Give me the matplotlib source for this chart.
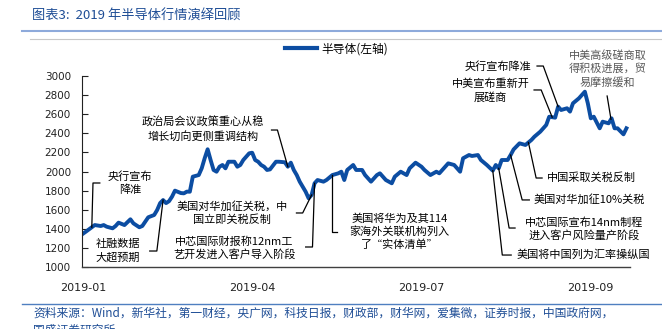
import numpy as np
import matplotlib
matplotlib.use("Agg")
import matplotlib.pyplot as plt
from matplotlib.lines import Line2D

plt.rcParams['font.family'] = ['Noto Sans CJK SC', 'DejaVu Sans']

# trading-day index and index level
days = [0, 1, 3, 4, 6, 7, 8, 10, 11, 12, 14, 16, 17, 19, 20, 22, 24, 25, 26, 27,
        28, 29, 30, 31, 33, 34, 35, 36, 37, 39, 40, 41, 42, 43, 44, 45, 46, 47, 48, 49,
        51, 52, 53, 54, 56, 57, 58, 59, 60, 61, 62, 63, 65, 66, 68, 69, 70, 71, 72, 73,
        75, 76, 77, 78, 79, 81, 82, 84, 86, 87, 88, 89, 91, 92, 94, 95, 97, 99, 100, 102,
        104, 105, 107, 109, 110, 112, 114, 115, 117, 119, 120, 122, 123, 125, 127, 128, 130, 131, 133, 134,
        136, 138, 139, 140, 141, 143, 144, 145, 147, 149, 151, 152, 154, 156, 157, 159, 160, 161, 163, 164,
        165, 167, 169, 170, 171, 172, 174, 175, 177, 178, 179, 180, 182, 183]
semi = [1350, 1372, 1418, 1441, 1431, 1441, 1424, 1407, 1431, 1466, 1441, 1501, 1459, 1418, 1431, 1522, 1546, 1598, 1670, 1702,
        1670, 1690, 1737, 1800, 1775, 1772, 1790, 1789, 1946, 1963, 2033, 2138, 2232, 2120, 2016, 1998, 2050, 2068, 2033, 2102,
        2102, 2050, 2068, 2120, 2190, 2196, 2120, 2102, 2068, 2050, 2016, 2022, 2102, 2102, 2096, 2050, 2092, 2016, 1963, 1894,
        1789, 1720, 1755, 1877, 1911, 1894, 1911, 1963, 1981, 1998, 1911, 2016, 2068, 2016, 2016, 1963, 1894, 1963, 1981, 1911,
        1877, 1946, 1998, 1963, 2033, 2092, 2050, 2016, 1963, 1998, 1981, 2050, 2085, 2068, 1998, 2138, 2172, 2162, 2172, 2120,
        2068, 2009, 2068, 2033, 2120, 2120, 2172, 2230, 2294, 2277, 2329, 2363, 2416, 2486, 2572, 2562, 2677, 2642, 2660, 2625,
        2712, 2764, 2833, 2712, 2555, 2572, 2451, 2520, 2503, 2555, 2451, 2451, 2388, 2451]

tick_pos = [0, 57, 114, 171]
tick_labels = ['2019-01', '2019-04', '2019-07', '2019-09']

# annotations: text, text centre (day, level), leader corner (day, level), stub end day, target day
notes = [
    ('央行宣布\n降准', (15.8, 1875), (3.4, 1880), 5.7, 3),
    ('社融数据\n大超预期', (11.8, 1172), (24.9, 1170), 22.5, 27),
    ('政治局会议政策重心从稳\n增长切向更侧重调结构', (40.5, 2439), (65.5, 2433), 63.5, 69),
    ('美国对华加征关税，中\n国立即关税反制', (50.1, 1572), (74.0, 1567), 71.9, 77),
    ('中芯国际财报称12nm工\n艺开发进入客户导入阶段', (50.9, 1198), (77.3, 1212), 75.0, 78),
    ('美国将华为及其114\n家海外关联机构列入\n了“实体清单”', (106.6, 1372), (84.0, 1369), 85.7, 84),
    ('美国将中国列为汇率操纵国', (168.4, 1128), (141.2, 1128), 144.2, 138),
    ('中芯国际宣布14nm制程\n进入客户风险量产阶段', (168.7, 1398), (143.5, 1410), 145.5, 140),
    ('美国对华加征10%关税', (170.4, 1710), (147.9, 1703), 150.3, 144),
    ('中国采取关税反制', (171.3, 1940), (152.6, 1932), 154.6, 150),
    ('中美宣布重新开\n展磋商', (137.3, 2843), (154.3, 2851), 151.9, 158),
    ('央行宣布降准', (139.8, 3094), (155.0, 3101), 152.9, 160),
]

W, H = 662, 329
fig = plt.figure(figsize=(W / 100, H / 100), dpi=100)
ax = fig.add_axes([82 / W, 1 - 267.3 / H, (630 - 82) / W, (267.3 - 75.7) / H])

line_color = '#0c4da2'
ax.plot(days, semi, color=line_color, lw=2.8, solid_joinstyle='round', label='半导体(左轴)')

ax.set_xlim(-0.3, 184.2)
ax.set_ylim(1000, 3000)
ax.set_yticks(np.arange(1000, 3001, 200))
ax.set_xticks(tick_pos)
ax.set_xticklabels(tick_labels)
for lab in ax.get_xticklabels() + ax.get_yticklabels():
    lab.set_family('DejaVu Sans')
ax.tick_params(axis='y', direction='in', length=4, width=0.8, pad=8, labelsize=7.5, colors='#222222')
ax.tick_params(axis='x', length=0, pad=11, labelsize=8, colors='#222222')
ax.spines['top'].set_visible(False)
ax.spines['right'].set_visible(False)
ax.spines['left'].set_color('#222222')
ax.spines['left'].set_linewidth(0.8)
ax.spines['bottom'].set_color('#404040')
ax.spines['bottom'].set_linewidth(1.0)

for text, (tx, ty), (cx, cy), sx, target in notes:
    yv = np.interp(target, days, semi)
    ax.plot([target, cx, sx], [yv, cy, cy], color='black', lw=0.9, clip_on=False)
    ax.text(tx, ty, text, ha='center', va='center', multialignment='center',
            fontsize=8, linespacing=1.3, color='black', clip_on=False)

# trade-talks note in grey, straight leader
yv = np.interp(177.8, days, semi)
ax.plot([176.5, 177.8], [2788, yv], color='black', lw=0.9, clip_on=False)
ax.text(176.6, 3071, '中美高级磋商取\n得积极进展，贸\n易摩擦缓和', ha='center', va='center',
        multialignment='center', fontsize=8, linespacing=1.3, color='#595959', clip_on=False)

leg = ax.legend(handles=[Line2D([], [], color=line_color, lw=3)], labels=['半导体(左轴)'],
                loc='center left', bbox_to_anchor=(285 / W, 1 - 49 / H), bbox_transform=fig.transFigure,
                frameon=False, fontsize=8.5, handlelength=2.7, handletextpad=0.4, borderpad=0, borderaxespad=0)

# header and footer
blue = '#1f4e96'
fig.text(32 / W, 1 - 16.5 / H, '图表3:  2019 年半导体行情演绎回顾', color=blue, fontsize=9.5,
         ha='left', va='center', fontstyle='italic')
fig.add_artist(Line2D([22 / W, 1], [1 - 30.7 / H] * 2, color='#8eaadb', lw=1.5))
fig.add_artist(Line2D([30 / W, 1], [1 - 39.3 / H] * 2, color='#c8c8c8', lw=0.8))
fig.add_artist(Line2D([22 / W, 1], [1 - 303.5 / H] * 2, color='#4f7fc0', lw=1.0))
fig.text(33 / W, 1 - 313.5 / H,
         '资料来源：Wind，新华社，第一财经，央广网，科技日报，财政部，财华网，爱集微，证券时报，中国政府网，',
         color=blue, fontsize=8.5, ha='left', va='center', fontstyle='italic')
fig.text(33 / W, 1 - 330 / H, '国盛证券研究所', color=blue, fontsize=8.5, ha='left', va='center',
         fontstyle='italic')

fig.savefig('out.png', dpi=100)
